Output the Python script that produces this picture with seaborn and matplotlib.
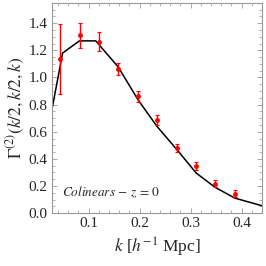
import matplotlib
matplotlib.use("Agg")
import matplotlib.pyplot as plt
from matplotlib.ticker import MultipleLocator, FormatStrFormatter
import pandas as pd
import seaborn as sns

# measured points (red, with error bars)
k_data = [0.044, 0.083, 0.121, 0.158, 0.197, 0.235, 0.273, 0.311, 0.348, 0.387]
gamma_data = [1.135, 1.31, 1.262, 1.062, 0.862, 0.685, 0.481, 0.344, 0.216, 0.142]
gamma_err = [0.26, 0.095, 0.07, 0.045, 0.04, 0.035, 0.03, 0.03, 0.025, 0.025]

# theory curve (black)
k_theory = [0.028, 0.049, 0.082, 0.114, 0.158, 0.197, 0.234, 0.274, 0.311, 0.348, 0.387, 0.440]
gamma_theory = [0.76, 1.18, 1.27, 1.27, 1.078, 0.835, 0.64, 0.464, 0.295, 0.19, 0.11, 0.054]

sns.set_theme(style="ticks")
plt.rcParams["font.family"] = ["Liberation Serif", "DejaVu Serif"]
plt.rcParams["mathtext.fontset"] = "stix"

fig = plt.figure(figsize=(2.66, 2.66), dpi=100)
ax = fig.add_axes([0.195, 0.199, 0.79, 0.79])

theory = pd.DataFrame({"k": k_theory, "gamma": gamma_theory})
sns.lineplot(data=theory, x="k", y="gamma", ax=ax, color="black",
             linewidth=1.1, sort=False)

ax.errorbar(k_data, gamma_data, yerr=gamma_err, fmt="o", color="red",
            ecolor="red", markersize=2.5, elinewidth=1.0, capsize=1.6,
            capthick=0.8)

ax.set_xlim(0.028, 0.44)
ax.set_ylim(0, 1.55)
ax.xaxis.set_major_locator(MultipleLocator(0.1))
ax.xaxis.set_minor_locator(MultipleLocator(0.02))
ax.yaxis.set_major_locator(MultipleLocator(0.2))
ax.yaxis.set_minor_locator(MultipleLocator(0.05))
ax.xaxis.set_major_formatter(FormatStrFormatter("%.1f"))
ax.yaxis.set_major_formatter(FormatStrFormatter("%.1f"))

for side in ax.spines.values():
    side.set_color("#999999")
    side.set_linewidth(0.8)
ax.tick_params(which="both", direction="in", top=True, right=True,
               color="#999999", labelsize=11, pad=3)
ax.tick_params(which="major", length=3.5, width=0.6)
ax.tick_params(which="minor", length=2, width=0.5)

ax.set_xlabel(r"$k$ [$h^{-1}$ Mpc]", fontsize=12.5, labelpad=4)
ax.set_ylabel(r"$\Gamma^{(2)}(k/2,k/2,k)$", fontsize=12.5, labelpad=1)

ax.text(0.05, 0.10, r"$\mathit{Colinears}\,-\,z\,=\,0$", fontsize=9.5,
        transform=ax.transAxes, va="center", ha="left")

fig.savefig("out.png", dpi=100)
